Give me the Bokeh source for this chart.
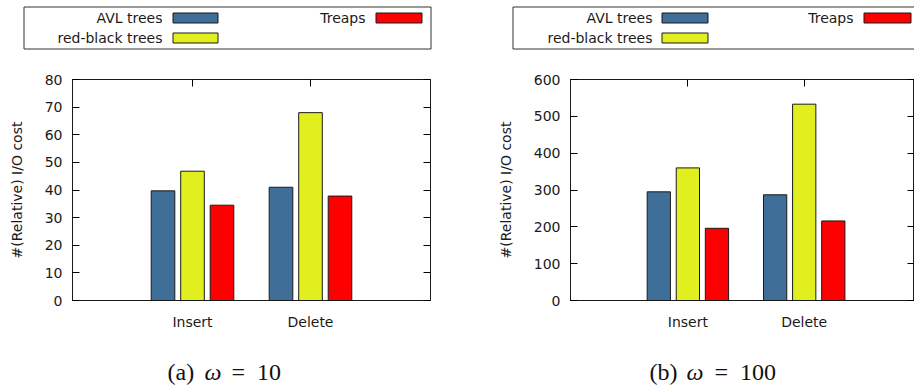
from bokeh.plotting import figure
from bokeh.models import FixedTicker, Range1d, LinearAxis, ColumnDataSource
from bokeh.layouts import row, column
from bokeh.core.properties import value
from bokeh.embed import file_html
from bokeh.resources import INLINE

# ---------------- data ----------------
categories = ["Insert", "Delete"]
series = ["AVL trees", "red-black trees", "Treaps"]
colors = ["#3f6e99", "#e1ef1f", "#ff0000"]

avl_w10 = [39.7, 41.0]
rb_w10 = [46.8, 68.0]
treap_w10 = [34.5, 37.8]

avl_w100 = [295, 287]
rb_w100 = [360, 533]
treap_w100 = [196, 216]

yticks_w10 = [0, 10, 20, 30, 40, 50, 60, 70, 80]
yticks_w100 = [0, 100, 200, 300, 400, 500, 600]
cap_tags = ["(a)", "(b)"]
cap_vals = ["10", "100"]
ylabel = "#(Relative) I/O cost"

FONT = "DejaVu Sans"
SERIF = "Liberation Serif"
INK = "#1a1a1a"
LEG_H = 66
CAP_H = 48


def blank_fig(width, height):
    f = figure(width=width, height=height, x_range=Range1d(0, width),
               y_range=Range1d(height, 0), output_backend="svg",
               toolbar_location=None, x_axis_type=None, y_axis_type=None,
               min_border=0, frame_align=False, title_location=None)
    f.outline_line_color = None
    f.xgrid.visible = False
    f.ygrid.visible = False
    return f


def legend_fig(width, box, items):
    f = blank_fig(width, LEG_H)
    bx0, bx1, by0, by1 = box
    f.quad(left=[bx0], right=[bx1], top=[by0], bottom=[by1], fill_color=None,
           line_color="#333333", line_width=1)
    tx = [it[0] for it in items]
    cy = [it[3] for it in items]
    f.text(x=tx, y=cy, text=series, text_font=value(FONT), text_font_size="14px",
           text_color=INK, text_align="right", text_baseline="middle")
    f.quad(left=[it[1] for it in items], right=[it[2] for it in items],
           top=[c - 5 for c in cy], bottom=[c + 5 for c in cy],
           fill_color=colors, line_color=INK, line_width=1)
    return f


def caption_fig(width, tag, val, xs):
    f = blank_fig(width, CAP_H)
    base = 31
    f.text(x=[xs[0]], y=[base], text=[tag], text_font=value(SERIF),
           text_font_size="24px", text_color="#111111", text_baseline="alphabetic")
    f.text(x=[xs[1]], y=[base], text=["\u03c9"], text_font=value(SERIF),
           text_font_size="24px", text_font_style="italic", text_color="#111111",
           text_baseline="alphabetic")
    f.text(x=[xs[2]], y=[base], text=["=\u2002" + val], text_font=value(SERIF),
           text_font_size="24px", text_color="#111111", text_baseline="alphabetic")
    return f


def panel(vals, ymax, yticks, xr, width, bl, br):
    p = figure(width=width, height=274, x_range=Range1d(*xr),
               y_range=Range1d(0, ymax), output_backend="svg",
               toolbar_location=None, min_border_left=bl,
               min_border_right=br, min_border_top=13, min_border_bottom=40,
               frame_align=False, title_location=None)
    p.xgrid.visible = False
    p.ygrid.visible = False
    p.outline_line_color = INK
    p.outline_line_width = 1

    offsets = [-0.25, 0.0, 0.25]
    for s, (name, col, v) in enumerate(zip(series, colors, vals)):
        src = ColumnDataSource(dict(x=[i + offsets[s] for i in range(len(categories))],
                                    top=v))
        p.vbar(x="x", top="top", bottom=0, width=0.2, source=src,
               fill_color=col, line_color=INK, line_width=1)

    xt = list(range(len(categories)))
    p.xaxis.ticker = FixedTicker(ticks=xt)
    p.xaxis.major_label_overrides = {i: c for i, c in enumerate(categories)}
    p.xaxis.major_tick_in = 0
    p.xaxis.major_tick_out = 0
    p.xaxis.minor_tick_line_color = None
    p.xaxis.major_label_standoff = 13
    p.xaxis.major_label_text_font = FONT
    p.xaxis.major_label_text_font_size = "14px"
    p.xaxis.major_label_text_color = INK
    p.xaxis.axis_line_color = INK

    p.yaxis.ticker = FixedTicker(ticks=yticks)
    p.yaxis.major_tick_in = 7
    p.yaxis.major_tick_out = 0
    p.yaxis.minor_tick_line_color = None
    p.yaxis.major_label_standoff = 10
    p.yaxis.major_label_text_font = FONT
    p.yaxis.major_label_text_font_size = "14px"
    p.yaxis.major_label_text_color = INK
    p.yaxis.axis_line_color = INK
    p.yaxis.axis_label = ylabel
    p.yaxis.axis_label_text_font = FONT
    p.yaxis.axis_label_text_font_size = "14px"
    p.yaxis.axis_label_text_font_style = "normal"
    p.yaxis.axis_label_text_color = INK
    p.yaxis.axis_label_standoff = 17

    top = LinearAxis(ticker=FixedTicker(ticks=xt), major_tick_in=7, major_tick_out=0,
                     minor_tick_line_color=None, major_label_text_font_size="1px",
                     major_label_text_color=None, major_label_standoff=0,
                     axis_line_color=INK)
    p.add_layout(top, "above")
    right = LinearAxis(ticker=FixedTicker(ticks=yticks), major_tick_in=7, major_tick_out=0,
                       minor_tick_line_color=None, major_label_text_font_size="1px",
                       major_label_text_color=None, major_label_standoff=0,
                       axis_line_color=INK)
    p.add_layout(right, "right")
    return p


W1, W2 = 460, 454

leg1 = legend_fig(W1, (23.5, 430.5, 6.5, 48.5),
                  [(162, 172.5, 217.5, 17.5), (162, 172.5, 217.5, 37.5),
                   (365, 375.5, 421.5, 17.5)])
leg2 = legend_fig(W2, (52.5, 470, 6.5, 48.5),
                  [(192, 201.5, 247.5, 17.5), (192, 201.5, 247.5, 37.5),
                   (393, 403.5, 450.5, 17.5)])

p1 = panel([avl_w10, rb_w10, treap_w10], 80, yticks_w10, (-1.017, 2.017), W1, 72, 30)
p2 = panel([avl_w100, rb_w100, treap_w100], 600, yticks_w100, (-1.009, 1.948), W2, 110, 0)

cap1 = caption_fig(W1, cap_tags[0], cap_vals[0], (167, 204, 231))
cap2 = caption_fig(W2, cap_tags[1], cap_vals[1], (189, 226, 254))

layout = row(column(leg1, p1, cap1), column(leg2, p2, cap2))
open("out.html", "w").write(file_html(layout, INLINE))
